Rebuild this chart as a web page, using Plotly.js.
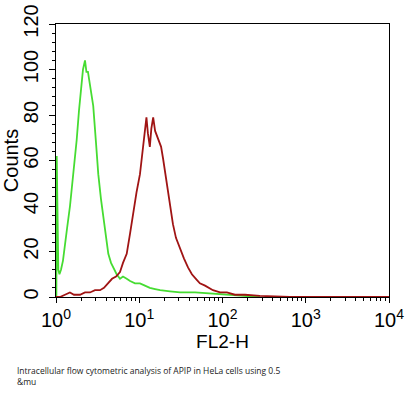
<!DOCTYPE html>
<html>
<head>
<meta charset="utf-8">
<script src="https://cdn.plot.ly/plotly-3.0.1.min.js"></script>
<style>html,body{margin:0;padding:0;background:#fff;}#chart{width:413px;height:394px;}</style>
</head>
<body>
<div id="chart"></div>
<script>
// FL2-H channel values and counts
var greenX = [1.01,1.02,1.04,1.066,1.10,1.148,1.213,1.283,1.356,1.473,1.556,1.645,1.772,1.889,2.036,2.11,2.23,2.32,2.42,2.56,2.67,2.80,3.02,3.22,3.47,3.70,3.99,4.25,4.58,4.97,5.35,5.87,6.38,7.07,7.76,8.88,10.2,11.7,13.4,15.5,17.8,23.4,30.9,46.8,70.6,107,162,281];
var greenY = [0,62,40,12,10,12,16,22,30,40,48,58,69,82,97,100,104,99,99,93,90,84,68,54,43,35,26,19,15,12,10,8,9,8,7,6,6,5,4,3.5,3,2.5,2,2,1.5,1,0.5,0];
var redX = [1.0,1.117,1.28,1.47,1.645,1.94,2.23,2.56,2.94,3.38,3.77,4.21,4.71,5.26,5.87,6.38,7.07,7.76,8.42,9.27,10.2,11.1,11.88,12.2,12.7,13.4,13.97,14.7,15.5,16.8,18.3,19.3,21.0,22.2,23.8,25.4,27.6,30.9,34.4,38.5,42.9,47.9,53.5,61.7,76.8,93.4,113,141,186,281,644,10000];
var redY = [0,0,1,2,1,1,2,2,3,3,4,6,8,9,11,15,19,28,37,46,54,66,76,79,72,66,74,79,73,70,66,61,52,47,38,32,26,21,17,13,10,8,6,5,3,2,2,1,1,0.5,0,0];
var xTickVals = [1,10,100,1000,10000];
var xTickText = ['10<sup>0</sup>','10<sup>1</sup>','10<sup>2</sup>','10<sup>3</sup>','10<sup>4</sup>'];
var caption = 'Intracellular flow cytometric analysis of APIP in HeLa cells using 0.5<br>&amp;mu';

var minorX = [];
for (var d = 0; d < 4; d++) { for (var m = 2; m <= 9; m++) { minorX.push(m * Math.pow(10, d)); } }

var font = 'Liberation Sans, Arial, sans-serif';
var traces = [
  {x: greenX, y: greenY, type: 'scatter', mode: 'lines', line: {color: 'rgb(70,220,50)', width: 1.8}, hoverinfo: 'skip'},
  {x: redX, y: redY, type: 'scatter', mode: 'lines', line: {color: 'rgb(160,20,20)', width: 1.8}, hoverinfo: 'skip'}
];
var layout = {
  width: 413, height: 394,
  margin: {l: 56, r: 24, t: 24, b: 97},
  paper_bgcolor: '#fff', plot_bgcolor: '#fff',
  showlegend: false,
  font: {family: font, color: '#000'},
  xaxis: {
    type: 'log', range: [0, 4],
    tickmode: 'array', tickvals: xTickVals, ticktext: xTickText,
    ticks: 'outside', ticklen: 5, tickwidth: 1, tickcolor: '#000',
    minor: {tickmode: 'array', tickvals: minorX, ticks: 'outside', ticklen: 3, tickwidth: 1, tickcolor: '#000', showgrid: false},
    showline: true, mirror: true, linecolor: '#000', linewidth: 1,
    showgrid: false, zeroline: false,
    tickfont: {size: 20, family: font},
    title: {text: 'FL2-H', font: {size: 19, family: font}, standoff: 3}
  },
  yaxis: {
    range: [0, 120], dtick: 20, tickangle: -90,
    ticks: 'outside', ticklen: 6, tickwidth: 1, tickcolor: '#000',
    minor: {dtick: 4, ticks: 'outside', ticklen: 3, tickwidth: 1, tickcolor: '#000', showgrid: false},
    showline: true, mirror: true, linecolor: '#000', linewidth: 1,
    showgrid: false, zeroline: false,
    tickfont: {size: 20, family: font},
    ticklabelstandoff: 3,
    title: {text: 'Counts', font: {size: 20, family: font}, standoff: 5}
  },
  annotations: [{
    xref: 'paper', yref: 'paper', x: -0.123, y: -0.243, xanchor: 'left', yanchor: 'top', align: 'left',
    showarrow: false, text: caption, font: {size: 8.5, family: 'Open Sans, sans-serif', color: '#222'}
  }]
};
Plotly.newPlot('chart', traces, layout, {displayModeBar: false, staticPlot: true});
</script>
</body>
</html>
